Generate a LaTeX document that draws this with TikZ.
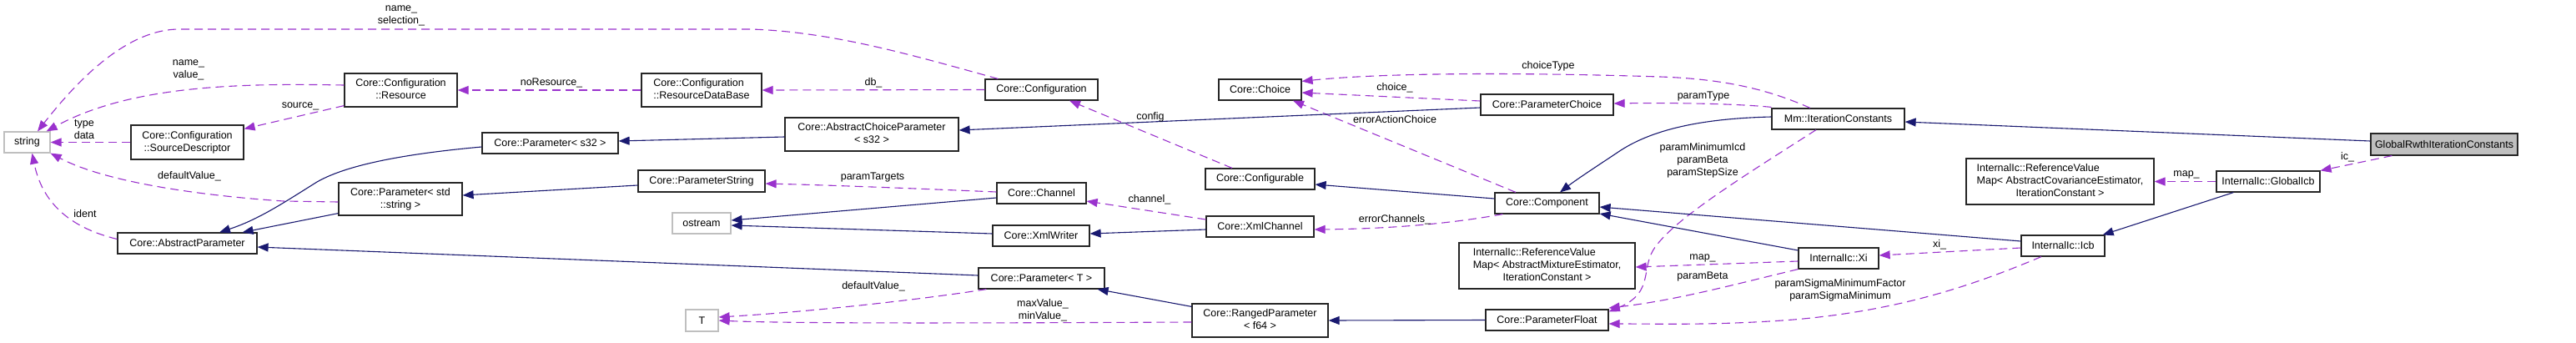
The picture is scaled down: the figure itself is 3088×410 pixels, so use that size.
\documentclass[tikz,border=0pt]{standalone}
\usepackage{fontspec}
\setmainfont{Liberation Sans}
\usetikzlibrary{arrows.meta,calc}
\definecolor{inhcol}{HTML}{191970}
\definecolor{usecol}{HTML}{9A32CD}
\definecolor{grayb}{HTML}{BFBFBF}
\newcommand\dxtwo[2]{\begin{tabular}{@{}l@{}}#1\\\multicolumn{1}{@{}c@{}}{#2}\end{tabular}}
\newcommand\dxthree[3]{\begin{tabular}{@{}l@{}}#1\\#2\\\multicolumn{1}{@{}c@{}}{#3}\end{tabular}}
\begin{document}
\begin{tikzpicture}[x=1pt,y=-1pt,
  font=\fontsize{12.5}{15}\selectfont,
  cls/.style={draw=black!85, line width=1.2pt, fill=white, inner sep=0pt, align=center},
  ext/.style={cls, draw=grayb},
  self/.style={cls, fill=grayb},
  inhe/.style={draw=inhcol, line width=1.1pt, -{Triangle[length=13pt,width=10pt]}},
  usee/.style={draw=usecol, line width=1.1pt, dash pattern=on 10pt off 6pt, -{Triangle[length=13pt,width=10pt]}},
  lbl/.style={inner sep=0pt, align=center}]
\useasboundingbox (0,0) rectangle (3088,410);
\fill[white] (0,0) rectangle (3088,410);

% nodes
\node[ext, minimum width=55pt, minimum height=25pt] (string) at (32.5,170.5) {string};
\node[cls, minimum width=135pt, minimum height=40pt] (resource) at (480.5,108) {\dxtwo{Core::Configuration}{::Resource}};
\node[cls, minimum width=135pt, minimum height=41pt] (sd) at (224.5,170.5) {\dxtwo{Core::Configuration}{::SourceDescriptor}};
\node[cls, minimum width=148pt, minimum height=39pt] (pstr) at (480,238.5) {\dxtwo{Core::Parameter< std}{::string >}};
\node[cls, minimum width=167pt, minimum height=25pt] (absp) at (224.5,291.5) {Core::AbstractParameter};
\node[cls, minimum width=144pt, minimum height=40pt] (rdb) at (841,108) {\dxtwo{Core::Configuration}{::ResourceDataBase}};
\node[cls, minimum width=163pt, minimum height=25pt] (ps32) at (659.5,171.5) {Core::Parameter< s32 >};
\node[cls, minimum width=152pt, minimum height=26pt] (pstring) at (841,217) {Core::ParameterString};
\node[ext, minimum width=70pt, minimum height=25pt] (ostream) at (841,267.5) {ostream};
\node[ext, minimum width=39pt, minimum height=26pt] (T) at (841.5,384) {T};
\node[cls, minimum width=208pt, minimum height=40pt] (acp) at (1045,161) {\dxtwo{Core::AbstractChoiceParameter}{< s32 >}};
\node[cls, minimum width=135pt, minimum height=25pt] (config) at (1248.5,107.5) {Core::Configuration};
\node[cls, minimum width=107pt, minimum height=25pt] (channel) at (1248.5,231.5) {Core::Channel};
\node[cls, minimum width=116pt, minimum height=25pt] (xmlwriter) at (1248,282.5) {Core::XmlWriter};
\node[cls, minimum width=151pt, minimum height=25pt] (paramT) at (1248.5,333.5) {Core::Parameter< T >};
\node[cls, minimum width=99pt, minimum height=25pt] (choice) at (1510.5,107.5) {Core::Choice};
\node[cls, minimum width=131pt, minimum height=25pt] (configurable) at (1510.5,214.5) {Core::Configurable};
\node[cls, minimum width=129pt, minimum height=25pt] (xmlchannel) at (1510.5,271.5) {Core::XmlChannel};
\node[cls, minimum width=163pt, minimum height=40pt] (ranged) at (1510.5,384) {\dxtwo{Core::RangedParameter}{< f64 >}};
\node[cls, minimum width=159pt, minimum height=25pt] (pchoice) at (1854.5,125.5) {Core::ParameterChoice};
\node[cls, minimum width=125pt, minimum height=25pt] (component) at (1854.5,243.5) {Core::Component};
\node[cls, minimum width=211pt, minimum height=55pt] (rvmMix) at (1854.5,318.5) {\dxthree{InternalIc::ReferenceValue}{Map< AbstractMixtureEstimator,}{IterationConstant >}};
\node[cls, minimum width=147pt, minimum height=25pt] (pfloat) at (1854.5,383.5) {Core::ParameterFloat};
\node[cls, minimum width=159pt, minimum height=25pt] (itc) at (2203.5,142.5) {Mm::IterationConstants};
\node[cls, minimum width=96pt, minimum height=25pt] (xi) at (2204,309.5) {InternalIc::Xi};
\node[cls, minimum width=225pt, minimum height=55pt] (rvmCov) at (2469.5,217.5) {\dxthree{InternalIc::ReferenceValue}{Map< AbstractCovarianceEstimator,}{IterationConstant >}};
\node[cls, minimum width=100pt, minimum height=25pt] (icb) at (2473,294.5) {InternalIc::Icb};
\node[self, minimum width=176pt, minimum height=26pt] (global) at (2930,173) {GlobalRwthIterationConstants};
\node[cls, minimum width=124pt, minimum height=25pt] (gicb) at (2719,217.5) {InternalIc::GlobalIcb};

% usage edges (dashed)
\draw[usee] ([shift={(16,0)}]config.north west) .. controls (1100,68) and (1000,38) .. (900,35) -- (215,35) .. controls (150,35) and (90,100) .. ([shift={(12.5,0)}]string.north);
\draw[usee] ([shift={(0,-6)}]resource.west) .. controls (300,100) and (160,100) .. ([shift={(-5,0)}]string.north east);
\draw[usee] ([shift={(0,-2)}]resource.south west) -- ([shift={(0,5)}]sd.north east);
\draw[usee] (sd.west) -- (string.east);
\draw[usee] ([shift={(0,3.5)}]pstr.west) -- (340,241) .. controls (250,235) and (130,220) .. (string.south east);
\draw[usee] ([shift={(0,-5)}]absp.west) .. controls (80,272) and (50,240) .. ([shift={(6,0)}]string.south);
\draw[usee] (rdb.west) -- (resource.east);
\draw[usee] (config.west) -- (rdb.east);
\draw[usee] ([shift={(0,-1.5)}]channel.west) .. controls (1100,226) and (1000,222) .. ([shift={(0,3)}]pstring.east);
\draw[usee] ([shift={(0,-8.5)}]xmlchannel.west) -- ([shift={(0,9.5)}]channel.east);
\draw[usee] ([shift={(-33.5,0)}]configurable.north) -- ([shift={(33.5,0)}]config.south);
\draw[usee] ([shift={(0,-4.5)}]pchoice.west) -- ([shift={(0,3.5)}]choice.east);
\draw[usee] ([shift={(-37.5,0)}]component.north) -- ([shift={(39.5,0)}]choice.south);
\draw[usee] ([shift={(10,0)}]component.south west) .. controls (1750,266) and (1680,274) .. ([shift={(0,3.5)}]xmlchannel.east);
\draw[usee] ([shift={(-33.5,0)}]itc.north) .. controls (2130,112) and (2080,95) .. (1990,92) .. controls (1800,86) and (1650,88) .. ([shift={(0,3)}]choice.north east);
\draw[usee] ([shift={(0,-1)}]itc.north west) .. controls (2080,124) and (2000,123) .. ([shift={(0,-1.5)}]pchoice.east);
\draw[usee] ([shift={(-26.5,0)}]itc.south) .. controls (2100,205) and (2010,260) .. (1985,295) .. controls (1965,320) and (1985,350) .. ([shift={(0,3)}]pfloat.north east);
\draw[usee] ([shift={(0,3.5)}]xi.west) -- ([shift={(0,1.5)}]rvmMix.east);
\draw[usee] (xi.south west) .. controls (2090,338) and (2010,360) .. ([shift={(0,-14.5)}]pfloat.east);
\draw[usee] ([shift={(0,2.5)}]icb.west) -- ([shift={(0,-3.5)}]xi.east);
\draw[usee] ([shift={(-26,0)}]icb.south) .. controls (2370,340) and (2280,372) .. (2150,383) .. controls (2060,390) and (1990,388) .. ([shift={(0,4.5)}]pfloat.east);
\draw[usee] ([shift={(10,0)}]paramT.south west) .. controls (1110,358) and (980,373) .. ([shift={(0,-4)}]T.east);
\draw[usee] ([shift={(0,2)}]ranged.west) .. controls (1200,387) and (950,388) .. (T.east);
\draw[usee] ([shift={(26,0)}]global.south west) -- (gicb.north east);
\draw[usee] (gicb.west) -- (rvmCov.east);

% inheritance edges (solid)
\draw[inhe] ([shift={(0,4.5)}]ps32.west) .. controls (500,183) and (420,195) .. (380,218) .. controls (340,243) and (310,263) .. ([shift={(38.5,0)}]absp.north);
\draw[inhe] ([shift={(0,-3)}]pstr.south west) -- ([shift={(-18,0)}]absp.north east);
\draw[inhe] ([shift={(0,-3.5)}]paramT.west) -- ([shift={(0,4.5)}]absp.east);
\draw[inhe] ([shift={(0,3)}]acp.west) -- ([shift={(0,-2.5)}]ps32.east);
\draw[inhe] ([shift={(0,5)}]pstring.west) -- ([shift={(0,-4.5)}]pstr.east);
\draw[inhe] ([shift={(0,5.5)}]channel.west) -- ([shift={(0,-3.5)}]ostream.east);
\draw[inhe] ([shift={(0,-2.5)}]xmlwriter.west) -- ([shift={(0,2.5)}]ostream.east);
\draw[inhe] ([shift={(0,3.5)}]xmlchannel.west) -- ([shift={(0,-2.5)}]xmlwriter.east);
\draw[inhe] ([shift={(0,3.5)}]pchoice.west) -- ([shift={(0,-5)}]acp.east);
\draw[inhe] ([shift={(0,-5.5)}]component.west) -- ([shift={(0,6.5)}]configurable.east);
\draw[inhe] ([shift={(0,-2.5)}]itc.west) .. controls (2040,142) and (1980,155) .. (1940,182) .. controls (1910,202) and (1890,215) .. ([shift={(15.5,0)}]component.north);
\draw[inhe] ([shift={(0,-9.5)}]xi.west) -- ([shift={(0,12.5)}]component.east);
\draw[inhe] ([shift={(0,-5.5)}]icb.west) -- ([shift={(0,4.5)}]component.east);
\draw[inhe] (pfloat.west) -- (ranged.east);
\draw[inhe] ([shift={(0,4)}]ranged.north west) -- ([shift={(-9,0)}]paramT.south east);
\draw[inhe] ([shift={(0,-4)}]global.west) -- ([shift={(0,3.5)}]itc.east);
\draw[inhe] ([shift={(21,0)}]gicb.south west) -- ([shift={(-3,0)}]icb.north east);

% edge labels
\node[lbl] (l1) at (481,19) {name\_\\selection\_};
\node[lbl] (l2) at (226,84) {name\_\\value\_};
\node[lbl] (l3) at (360,127) {source\_};
\node[lbl] (l4) at (101,155) {type\\data};
\node[lbl] (l5) at (227,211) {defaultValue\_};
\node[lbl] (l6) at (102,256) {ident};
\node[lbl] (l7) at (661,99) {noResource\_};
\node[lbl] (l8) at (1047,99) {db\_};
\node[lbl] (l9) at (1046,212) {paramTargets};
\node[lbl] (l10) at (1379,140) {config};
\node[lbl] (l11) at (1378,239) {channel\_};
\node[lbl] (l12) at (1047,343) {defaultValue\_};
\node[lbl] (l13) at (1250,372) {maxValue\_\\minValue\_};
\node[lbl] (l14) at (1856,79) {choiceType};
\node[lbl] (l15) at (1672,105) {choice\_};
\node[lbl] (l16) at (1672,143) {errorActionChoice};
\node[lbl] (l17) at (1672,263) {errorChannels\_};
\node[lbl] (l18) at (2042,115) {paramType};
\node[lbl] (l19) at (2041,192) {paramMinimumIcd\\paramBeta\\paramStepSize};
\node[lbl] (l20) at (2041,309) {map\_};
\node[lbl] (l21) at (2041,331) {paramBeta};
\node[lbl] (l22) at (2325,293) {xi\_};
\node[lbl] (l23) at (2206,348) {paramSigmaMinimumFactor\\paramSigmaMinimum};
\node[lbl] (l24) at (2814,188) {ic\_};
\node[lbl] (l25) at (2621,209) {map\_};
\end{tikzpicture}
\end{document}
